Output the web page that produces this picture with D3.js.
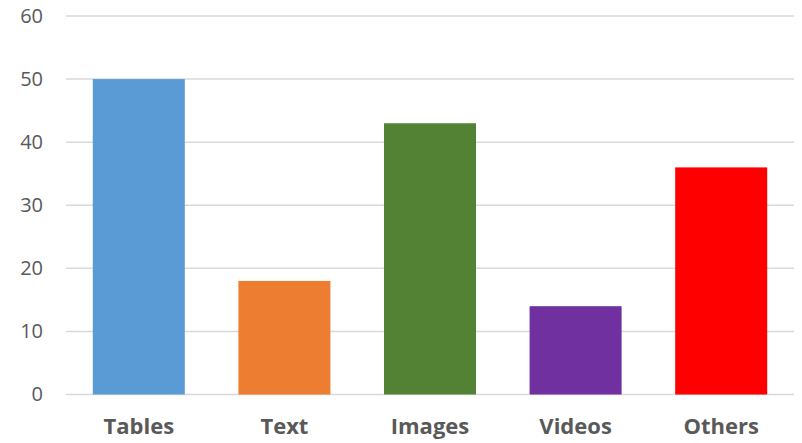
<!DOCTYPE html>
<html>
<head>
<meta charset="utf-8">
<script src="https://cdnjs.cloudflare.com/ajax/libs/d3/7.8.5/d3.min.js"></script>
<style>
  body { margin: 0; background: #fff; }
  svg { display: block; }
  .tick text { fill: #595959; }
</style>
</head>
<body>
<svg id="chart" width="802" height="443"></svg>
<script>
var categories = ["Tables", "Text", "Images", "Videos", "Others"];
var values = [50, 18, 43, 14, 36];
var colors = ["#5b9bd5", "#ed7d31", "#548235", "#7030a0", "#ff0000"];
var yTicks = [0, 10, 20, 30, 40, 50, 60];

var svg = d3.select("#chart");
var margin = { left: 66, right: 8, top: 16, bottom: 48.5 };
var w = 802, h = 443;

var x = d3.scaleBand()
          .domain(categories)
          .range([margin.left, w - margin.right])
          .paddingInner(0.368)
          .paddingOuter(0.184);

var y = d3.scaleLinear()
          .domain([0, 60])
          .range([h - margin.bottom, margin.top]);

// gridlines
svg.append("g")
   .selectAll("line")
   .data(yTicks)
   .enter()
   .append("line")
   .attr("x1", margin.left)
   .attr("x2", w - margin.right)
   .attr("y1", function(d) { return y(d); })
   .attr("y2", function(d) { return y(d); })
   .style("stroke", "#d9d9d9")
   .style("stroke-width", 1.5);

// y axis labels
var yAxis = svg.append("g")
   .attr("transform", "translate(" + margin.left + ",0)")
   .call(d3.axisLeft(y).tickValues(yTicks).tickSize(0).tickPadding(23));
yAxis.select(".domain").remove();
yAxis.selectAll("text")
     .style("font-family", "'Open Sans', sans-serif")
     .style("font-size", "20px");

// bars
svg.append("g")
   .selectAll("rect")
   .data(values)
   .enter()
   .append("rect")
   .attr("x", function(d, i) { return x(categories[i]); })
   .attr("width", x.bandwidth())
   .attr("y", function(d) { return y(d); })
   .attr("height", function(d) { return y(0) - y(d); })
   .style("fill", function(d, i) { return colors[i]; });

// x axis labels
var xAxis = svg.append("g")
   .attr("transform", "translate(0," + y(0) + ")")
   .call(d3.axisBottom(x).tickSize(0).tickPadding(24));
xAxis.select(".domain").remove();
xAxis.selectAll("text")
     .style("font-family", "'Open Sans', sans-serif")
     .style("font-size", "22px")
     .style("font-weight", "bold");
</script>
</body>
</html>
